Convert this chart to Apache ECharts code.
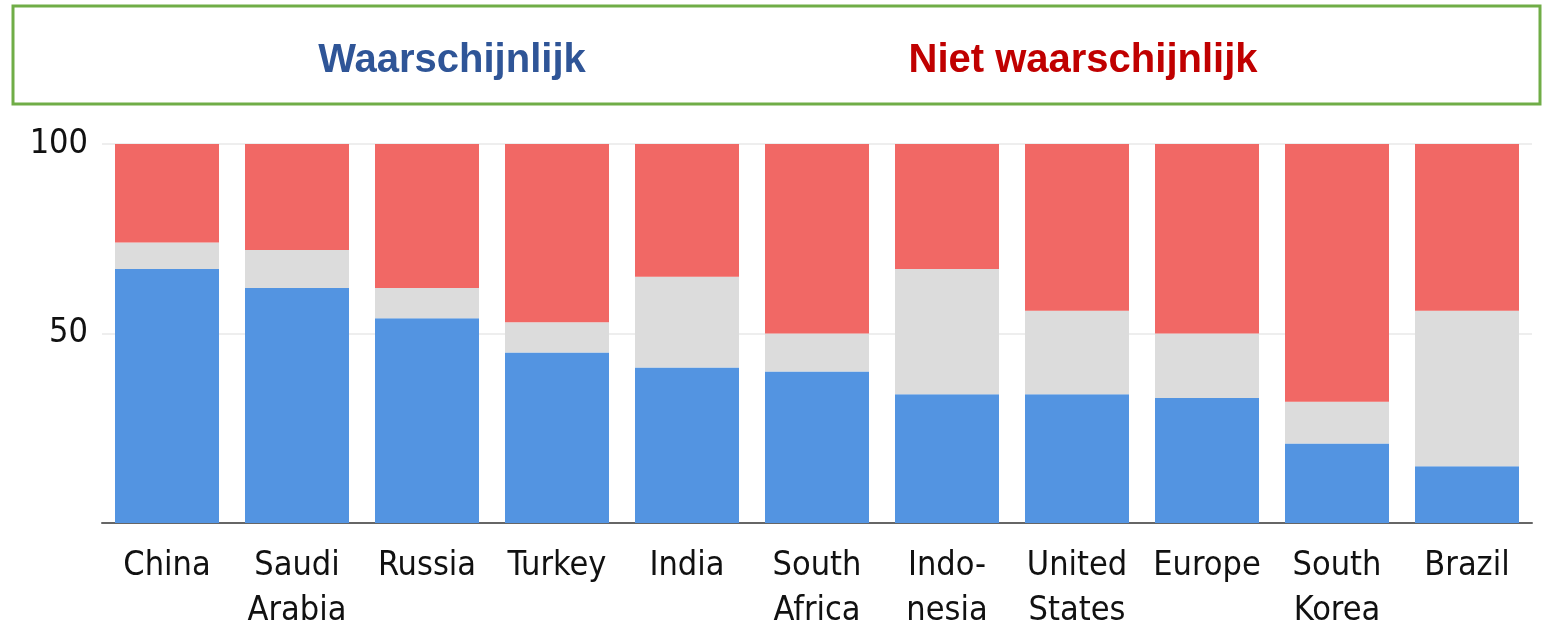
<!DOCTYPE html>
<html>
<head>
<meta charset="utf-8">
<script src="https://cdn.jsdelivr.net/npm/echarts@6/dist/echarts.min.js"></script>
<style>
  html, body { margin: 0; padding: 0; background: #fff; }
  #main { width: 1553px; height: 630px; }
</style>
</head>
<body>
<div id="main"></div>
<script>
// landen / regio's
const categories = ['China', 'Saudi\nArabia', 'Russia', 'Turkey', 'India', 'South\nAfrica',
  'Indo-\nnesia', 'United\nStates', 'Europe', 'South\nKorea', 'Brazil'];
// waarschijnlijk (blauw), neutraal (grijs), niet waarschijnlijk (rood)
const likely = [67, 62, 54, 45, 41, 40, 34, 34, 33, 21, 15];
const neutral = [7, 10, 8, 8, 24, 10, 33, 22, 17, 11, 41];
const unlikely = [26, 28, 38, 47, 35, 50, 33, 44, 50, 68, 44];
const yTicks = [0, 50, 100];

const labelFont = '"DejaVu Sans Condensed", "DejaVu Sans", sans-serif';

let myChart = echarts.init(document.getElementById('main'));

function bar(name, data, color) {
  return {
    name: name,
    type: 'bar',
    stack: 'total',
    data: data,
    barCategoryGap: '20%',
    itemStyle: { color: color },
    emphasis: { disabled: true }
  };
}

myChart.setOption({
  animation: false,
  title: [
    {
      text: 'Waarschijnlijk',
      left: 447, top: 36, textAlign: 'center',
      textStyle: { color: '#2F5597', fontSize: 40, fontWeight: 'bold', fontFamily: '"Liberation Sans", Arial, sans-serif' }
    },
    {
      text: 'Niet waarschijnlijk',
      left: 1078, top: 36, textAlign: 'center',
      textStyle: { color: '#C00000', fontSize: 40, fontWeight: 'bold', fontFamily: '"Liberation Sans", Arial, sans-serif' }
    }
  ],
  graphic: [{
    type: 'rect',
    shape: { x: 13, y: 6, width: 1527, height: 98 },
    style: { fill: 'none', stroke: '#70AD47', lineWidth: 3 },
    silent: true
  }],
  grid: { left: 102, right: 21, top: 144, bottom: 107, containLabel: false, outerBoundsMode: 'none' },
  xAxis: {
    type: 'category',
    data: categories,
    axisLine: { lineStyle: { color: '#666', width: 2 } },
    axisTick: { show: false },
    axisLabel: {
      color: '#111',
      fontSize: 34,
      fontFamily: labelFont,
      lineHeight: 45,
      margin: 21,
      interval: 0
    }
  },
  yAxis: {
    type: 'value',
    min: yTicks[0],
    max: yTicks[yTicks.length - 1],
    interval: 50,
    axisLine: { show: false },
    axisTick: { show: false },
    splitLine: { lineStyle: { color: '#EEEEEE', width: 2 } },
    axisLabel: {
      color: '#111',
      fontSize: 34,
      fontFamily: labelFont,
      margin: 14,
      formatter: function (v) { return v === 0 ? '' : String(v); }
    }
  },
  series: [
    bar('Waarschijnlijk', likely, '#5394E1'),
    bar('Neutraal', neutral, '#DCDCDC'),
    bar('Niet waarschijnlijk', unlikely, '#F16865')
  ]
});
</script>
</body>
</html>
